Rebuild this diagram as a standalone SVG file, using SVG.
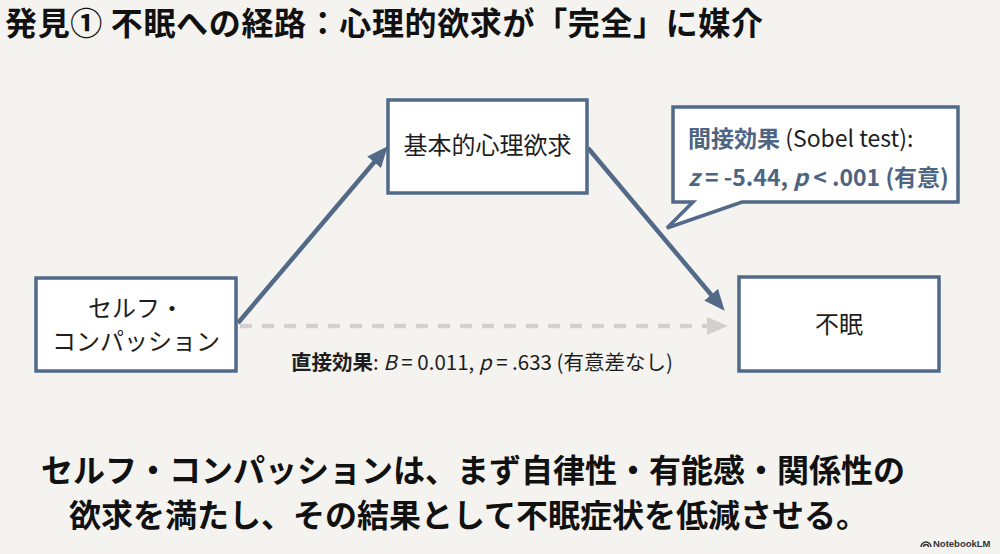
<svg xmlns="http://www.w3.org/2000/svg" width="1000" height="554" viewBox="0 0 1000 554">
  <defs>
    <style>
      .jp { font-family: "Noto Sans CJK JP", "Noto Sans", sans-serif; }
      .box { fill: #ffffff; stroke: #526a88; stroke-width: 3.5; }
      .lbl { font-size: 24px; fill: #1e1e1e; text-anchor: middle; }
      .arrow { stroke: #526a88; stroke-width: 4.5; fill: none; }
      .dash { stroke: #d2d1cd; stroke-width: 4.5; fill: none; stroke-dasharray: 12 10; }
      .accent { fill: #4d6482; }
    </style>
    <marker id="ah" markerUnits="userSpaceOnUse" markerWidth="22" markerHeight="18" refX="4" refY="9" orient="auto">
      <path d="M0,0 L21,9 L0,18 Z" fill="#526a88"/>
    </marker>
    <marker id="ahg" markerUnits="userSpaceOnUse" markerWidth="22" markerHeight="18" refX="4" refY="9" orient="auto">
      <path d="M0,0 L21,9 L0,18 Z" fill="#d2d1cd"/>
    </marker>
  </defs>

  <rect x="0" y="0" width="1000" height="554" fill="#f4f3ef"/>

  <text id="title" class="jp" x="5" y="35" font-size="32" font-weight="700" fill="#111111" textLength="758" lengthAdjust="spacing">発見① 不眠への経路：心理的欲求が「完全」に媒介</text>

  <g id="connectors">
    <line class="arrow" x1="238" y1="323" x2="376.7" y2="159.2" marker-end="url(#ah)"/>
    <line class="arrow" x1="588" y1="148" x2="713.7" y2="297.7" marker-end="url(#ah)"/>
    <line class="dash" x1="240" y1="326" x2="711" y2="326" marker-end="url(#ahg)"/>
    <text id="direct-label" class="jp" x="291" y="370" font-size="20.5" fill="#1e1e1e"><tspan font-weight="700">直接効果</tspan>: <tspan font-style="italic">B</tspan> = 0.011, <tspan font-style="italic">p</tspan> = .633 (有意差なし)</text>
  </g>

  <g id="node-sc">
    <rect class="box" x="36" y="278" width="200" height="93"/>
    <text class="jp lbl" x="136" y="317" font-size="23.5">セルフ・</text>
    <text class="jp lbl" x="136" y="350" font-size="23.5">コンパッション</text>
  </g>

  <g id="node-needs">
    <rect class="box" x="388" y="100" width="199" height="93"/>
    <text class="jp lbl" x="487.5" y="154">基本的心理欲求</text>
  </g>

  <g id="node-insomnia">
    <rect class="box" x="739" y="277" width="200" height="94"/>
    <text class="jp lbl" x="839" y="333">不眠</text>
  </g>

  <g id="callout">
    <path d="M673,107 H958 V202 H742 L667,228 L693,202 H673 Z" fill="#ffffff" stroke="#526a88" stroke-width="3.5" stroke-linejoin="miter"/>
    <text class="jp" x="688" y="147" font-size="23" fill="#1e1e1e"><tspan class="accent" font-weight="700">間接効果</tspan> (Sobel test):</text>
    <text class="jp accent" x="688" y="186" font-size="23" font-weight="700"><tspan font-style="italic">z</tspan> = -5.44, <tspan font-style="italic">p</tspan> &lt; .001 (有意)</text>
  </g>

  <g id="summary" class="jp" font-size="32" font-weight="700" fill="#111111">
    <text x="41" y="482">セルフ・コンパッションは、まず自律性・有能感・関係性の</text>
    <text x="69" y="527">欲求を満たし、その結果として不眠症状を低減させる。</text>
  </g>

  <g id="watermark">
    <path d="M921,547 a5,5 0 0 1 10,0 M923.5,547 a2.5,2.5 0 0 1 5,0" fill="none" stroke="#333333" stroke-width="1.4"/>
    <text x="933" y="547" font-family="Liberation Sans, sans-serif" font-size="9.5" font-weight="700" fill="#333333">NotebookLM</text>
  </g>
</svg>
